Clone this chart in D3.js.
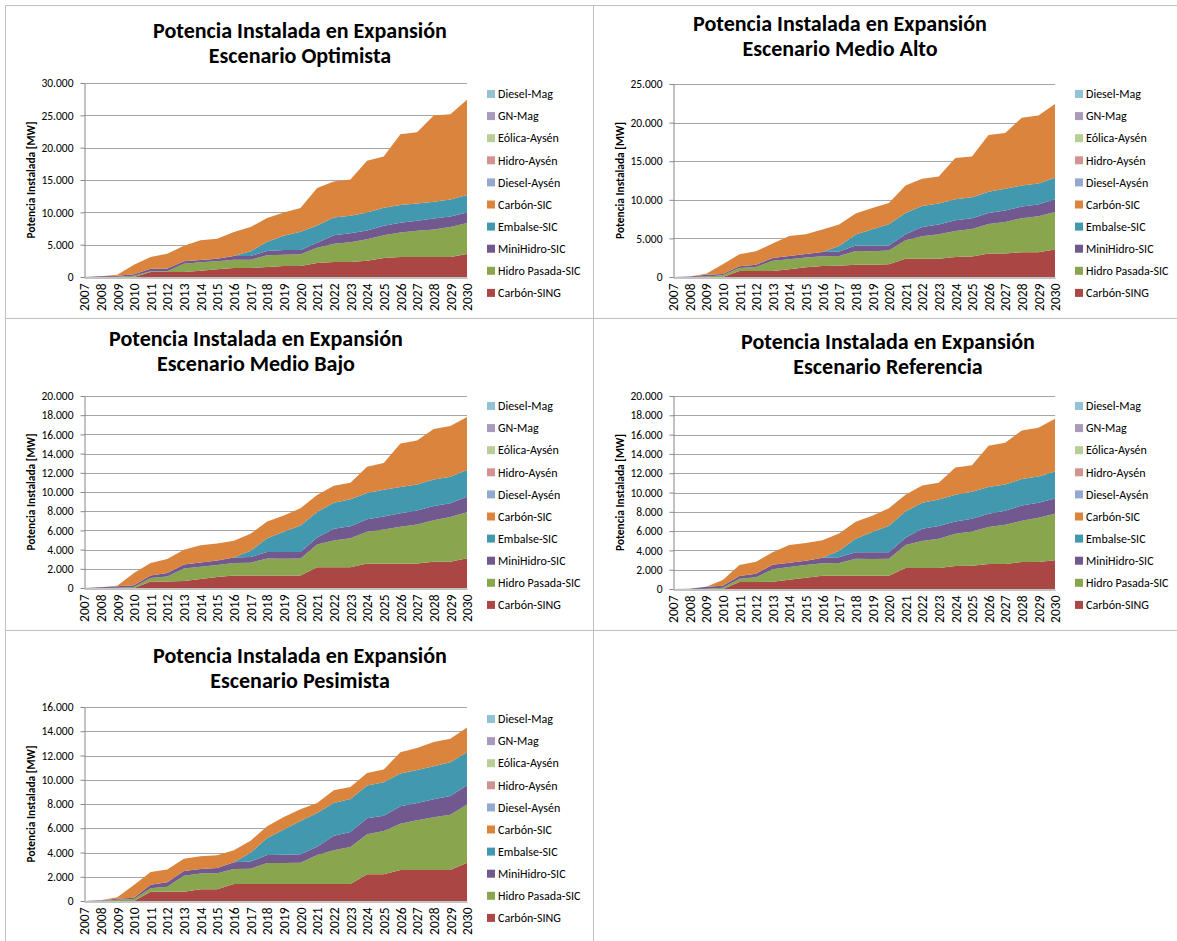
<!DOCTYPE html>
<html>
<head>
<meta charset="utf-8">
<script src="https://cdn.jsdelivr.net/npm/d3@7/dist/d3.min.js"></script>
<style>
  body { margin: 0; background: #fff; }
  svg text { font-family: Carlito, Calibri, Lato, sans-serif; fill: #000; }
  svg text.title { font-family: Carlito, Calibri, "Open Sans", sans-serif; }
</style>
</head>
<body>
<svg id="chart" width="1177" height="941"></svg>
<script>
// Categories (years)
const years = ["2007","2008","2009","2010","2011","2012","2013","2014","2015","2016","2017","2018",
               "2019","2020","2021","2022","2023","2024","2025","2026","2027","2028","2029","2030"];

// Series, in stacking order (bottom to top)
const seriesNames = ["Carbón-SING","Hidro Pasada-SIC","MiniHidro-SIC","Embalse-SIC","Carbón-SIC",
                     "Diesel-Aysén","Hidro-Aysén","Eólica-Aysén","GN-Mag","Diesel-Mag"];
const seriesColors = ["#AA4643","#89A54E","#71588F","#4198AF","#DB843D",
                      "#93A9CF","#D19392","#B9CD96","#A99BBD","#92C3D5"];

// Installed capacity in expansion [MW]
// Escenario Optimista
const optCarbonSING  = [0,0,0,0,770,770,770,980,1180,1390,1390,1545,1700,1700,2160,2320,2320,2520,2935,3090,3090,3090,3090,3550];
const optHidroPasada = [0,0,50,200,105,105,1290,1290,1240,1290,1290,1805,1750,1800,2370,2830,3040,3300,3505,3810,4070,4270,4635,4790];
const optMiniHidro   = [0,100,150,210,400,450,360,360,410,565,565,670,720,670,770,1290,1390,1390,1490,1500,1540,1700,1645,1650];
const optEmbalse     = [0,0,0,0,0,0,0,0,0,0,720,1440,2220,2830,2680,2780,2730,2780,2780,2720,2680,2580,2630,2680];
const optCarbonSIC   = [0,0,150,1490,1815,2275,2420,3040,3090,3705,3760,3660,3600,3660,5770,5560,5610,7980,7930,10970,11020,13340,13180,14730];

// Escenario Medio Alto
const altCarbonSING  = [0,0,0,0,780,780,780,1000,1250,1430,1470,1600,1600,1640,2380,2380,2380,2600,2640,3030,3030,3200,3200,3550];
const altHidroPasada = [0,0,80,220,390,520,1340,1290,1260,1250,1250,1770,1730,1780,2380,2900,3160,3370,3590,3850,4110,4410,4670,4880];
const altMiniHidro   = [0,80,220,170,210,300,350,430,470,560,570,700,740,650,780,1210,1250,1380,1380,1420,1470,1520,1520,1650];
const altEmbalse     = [0,0,0,0,0,0,0,0,0,0,730,1420,2110,2760,2760,2720,2730,2730,2730,2730,2810,2720,2720,2770];
const altCarbonSIC   = [0,0,130,1250,1560,1730,1860,2600,2560,2900,2770,2730,2770,2770,3550,3510,3500,5320,5270,7350,7220,8780,8820,9550];

// Escenario Medio Bajo
const bajCarbonSING  = [0,0,0,0,690,690,730,930,1140,1310,1310,1310,1310,1310,2150,2150,2150,2560,2560,2560,2560,2730,2730,3110];
const bajHidroPasada = [0,0,35,100,350,520,1310,1280,1250,1290,1320,1770,1730,1770,2380,2800,3040,3290,3530,3810,4050,4330,4670,4780];
const bajMiniHidro   = [0,70,135,180,270,350,420,450,480,580,590,660,700,660,730,1210,1240,1310,1350,1410,1450,1480,1420,1620];
const bajEmbalse     = [0,0,0,0,0,0,0,0,0,0,650,1450,2110,2760,2660,2730,2810,2740,2800,2740,2730,2770,2770,2770];
const bajCarbonSIC   = [0,0,70,1280,1290,1450,1520,1800,1770,1730,1770,1730,1690,1800,1770,1770,1730,2730,2770,4530,4570,5260,5290,5540];

// Escenario Referencia
const refCarbonSING  = [0,0,0,0,720,720,760,970,1170,1380,1380,1380,1380,1380,2170,2170,2170,2380,2420,2590,2590,2790,2790,2970];
const refHidroPasada = [0,0,35,140,350,490,1280,1310,1310,1280,1310,1760,1720,1760,2380,2800,3040,3350,3550,3830,4070,4280,4590,4830];
const refMiniHidro   = [0,35,205,205,280,380,480,450,450,580,590,660,700,660,760,1280,1310,1270,1310,1380,1450,1590,1560,1580];
const refEmbalse     = [0,0,0,0,0,0,0,0,0,0,690,1410,2100,2760,2730,2690,2760,2760,2790,2760,2720,2730,2720,2800];
const refCarbonSIC   = [0,0,0,585,1130,1240,1280,1820,1830,1800,1790,1760,1690,1820,1720,1790,1730,2830,2760,4280,4320,5030,5040,5450];

// Escenario Pesimista
const pesCarbonSING  = [0,0,0,0,770,770,770,960,960,1400,1400,1400,1400,1400,1400,1400,1400,2200,2200,2560,2560,2560,2560,3160];
const pesHidroPasada = [0,30,110,165,280,410,1320,1300,1320,1240,1270,1740,1740,1760,2400,2780,3060,3300,3580,3820,4100,4340,4560,4790];
const pesMiniHidro   = [0,25,80,110,300,360,390,380,440,550,580,660,680,690,680,1210,1230,1320,1260,1430,1430,1490,1540,1590];
const pesEmbalse     = [0,0,0,0,0,0,0,0,0,0,720,1400,2070,2750,2780,2690,2730,2700,2750,2700,2720,2720,2780,2730];
const pesCarbonSIC   = [0,0,110,1045,1040,1050,1010,1050,1050,990,990,960,1040,960,820,1050,990,1040,1050,1760,1810,2010,1950,2040];

// Systems with no capacity added in any scenario
const noCapacity     = [0,0,0,0,0,0,0,0,0,0,0,0,0,0,0,0,0,0,0,0,0,0,0,0];

// Y-axis ticks per scenario
const optTicks = [0,5000,10000,15000,20000,25000,30000];
const altTicks = [0,5000,10000,15000,20000,25000];
const bajTicks = [0,2000,4000,6000,8000,10000,12000,14000,16000,18000,20000];
const refTicks = [0,2000,4000,6000,8000,10000,12000,14000,16000,18000,20000];
const pesTicks = [0,2000,4000,6000,8000,10000,12000,14000,16000];

const mainTitle = "Potencia Instalada en Expansión";
const yAxisTitle = "Potencia Instalada [MW]";

const panels = [
  { sub: "Escenario Optimista",
    values: [optCarbonSING, optHidroPasada, optMiniHidro, optEmbalse, optCarbonSIC, noCapacity, noCapacity, noCapacity, noCapacity, noCapacity],
    ticks: optTicks,
    plot: [84, 83, 467, 277], titleX: 300, titleY: 30, legX: 487, legY: 94, yTitleX: 31 },
  { sub: "Escenario Medio Alto",
    values: [altCarbonSING, altHidroPasada, altMiniHidro, altEmbalse, altCarbonSIC, noCapacity, noCapacity, noCapacity, noCapacity, noCapacity],
    ticks: altTicks,
    plot: [673, 84, 1055, 277], titleX: 840, titleY: 23, legX: 1075, legY: 94, yTitleX: 620 },
  { sub: "Escenario Medio Bajo",
    values: [bajCarbonSING, bajHidroPasada, bajMiniHidro, bajEmbalse, bajCarbonSIC, noCapacity, noCapacity, noCapacity, noCapacity, noCapacity],
    ticks: bajTicks,
    plot: [84, 396, 467, 588], titleX: 256, titleY: 338, legX: 487, legY: 406, yTitleX: 31 },
  { sub: "Escenario Referencia",
    values: [refCarbonSING, refHidroPasada, refMiniHidro, refEmbalse, refCarbonSIC, noCapacity, noCapacity, noCapacity, noCapacity, noCapacity],
    ticks: refTicks,
    plot: [673, 396, 1055, 589], titleX: 888, titleY: 341, legX: 1075, legY: 406, yTitleX: 620 },
  { sub: "Escenario Pesimista",
    values: [pesCarbonSING, pesHidroPasada, pesMiniHidro, pesEmbalse, pesCarbonSIC, noCapacity, noCapacity, noCapacity, noCapacity, noCapacity],
    ticks: pesTicks,
    plot: [84, 707, 467, 901], titleX: 300, titleY: 655, legX: 487, legY: 719, yTitleX: 31 }
];

const svg = d3.select("#chart");
const locale = d3.formatLocale({ decimal: ",", thousands: ".", grouping: [3], currency: ["$", ""] });
const fmt = locale.format(",");

// Cell frames
const frame = svg.append("g").attr("stroke", "#bfbfbf").attr("stroke-width", 1).attr("fill", "none");
[[5.5,5.5,1177,5.5],[5.5,5.5,5.5,941],[593.5,5.5,593.5,941],[5.5,318.5,1177,318.5],[5.5,630.5,1177,630.5]]
  .forEach(l => frame.append("line").attr("x1", l[0]).attr("y1", l[1]).attr("x2", l[2]).attr("y2", l[3]));

// Title font size so the first line spans the chart-title width
const probe = svg.append("text").attr("class", "title").attr("font-weight", "bold").attr("font-size", 18).text(mainTitle);
const titleSize = 18 * 294 / probe.node().getComputedTextLength();
probe.remove();

function drawPanel(p) {
  const g = svg.append("g");
  const [px0, py0, px1, py1] = p.plot;
  const x = d3.scalePoint().domain(years).range([px0, px1]);
  const y = d3.scaleLinear().domain([0, d3.max(p.ticks)]).range([py1, py0]);

  // Gridlines
  g.append("g").selectAll("line").data(p.ticks.filter(t => t > 0)).join("line")
    .attr("x1", px0).attr("x2", px1)
    .attr("y1", d => Math.round(y(d)) + 0.5).attr("y2", d => Math.round(y(d)) + 0.5)
    .attr("stroke", "#a6a6a6").attr("stroke-width", 1);

  // Stacked areas
  const rows = years.map((yr, i) => {
    const r = { year: yr };
    seriesNames.forEach((s, k) => { r[s] = p.values[k][i]; });
    return r;
  });
  const layers = d3.stack().keys(seriesNames)(rows);
  const area = d3.area()
    .x(d => x(d.data.year))
    .y0(d => y(d[0]))
    .y1(d => y(d[1]));
  g.append("g").selectAll("path").data(layers).join("path")
    .attr("d", area)
    .attr("fill", (d, i) => seriesColors[i]);

  // Y axis
  const yAxis = d3.axisLeft(y).tickValues(p.ticks).tickFormat(fmt).tickSize(4).tickSizeOuter(0).tickPadding(7);
  const ya = g.append("g").attr("transform", `translate(${px0 + 0.5},0)`).call(yAxis);
  ya.select(".domain").attr("stroke", "#868686");
  ya.selectAll(".tick line").attr("stroke", "#868686");
  ya.selectAll(".tick text").attr("font-size", 11.5).style("font-family", "Carlito, Calibri, Lato, sans-serif");

  // X axis with vertical year labels
  const xAxis = d3.axisBottom(x).tickSize(0).tickSizeOuter(0).tickPadding(0);
  const xa = g.append("g").attr("transform", `translate(0,${py1 + 0.5})`).call(xAxis);
  xa.select(".domain").attr("stroke", "#868686");
  xa.selectAll(".tick text")
    .attr("transform", "rotate(-90)")
    .attr("text-anchor", "end")
    .attr("x", -6).attr("y", 0).attr("dy", "0.35em")
    .attr("font-size", 13.5)
    .style("font-family", "Carlito, Calibri, Lato, sans-serif");

  // Y-axis title
  g.append("text")
    .attr("transform", `translate(${p.yTitleX},${(py0 + py1) / 2}) rotate(-90)`)
    .attr("text-anchor", "middle").attr("dy", "0.35em")
    .attr("font-size", 11).attr("font-weight", "bold")
    .attr("textLength", 117).attr("lengthAdjust", "spacingAndGlyphs")
    .text(yAxisTitle);

  // Title
  const t = g.append("text").attr("class", "title").attr("text-anchor", "middle")
    .attr("font-weight", "bold").attr("font-size", titleSize);
  t.append("tspan").attr("x", p.titleX).attr("y", p.titleY).attr("dy", "0.35em").text(mainTitle);
  t.append("tspan").attr("x", p.titleX).attr("y", p.titleY + 25.5).attr("dy", "0.35em").text(p.sub);

  // Legend (top entry is the last stacked series)
  const legendOrder = seriesNames.map((s, i) => i).reverse();
  const lg = g.append("g");
  legendOrder.forEach((si, row) => {
    const cy = p.legY + row * 22.1;
    lg.append("rect").attr("x", p.legX).attr("y", cy - 4).attr("width", 8).attr("height", 8).attr("fill", seriesColors[si]);
    lg.append("text").attr("x", p.legX + 11).attr("y", cy).attr("dy", "0.35em").attr("font-size", 12).text(seriesNames[si]);
  });
}

panels.forEach(drawPanel);
</script>
</body>
</html>
